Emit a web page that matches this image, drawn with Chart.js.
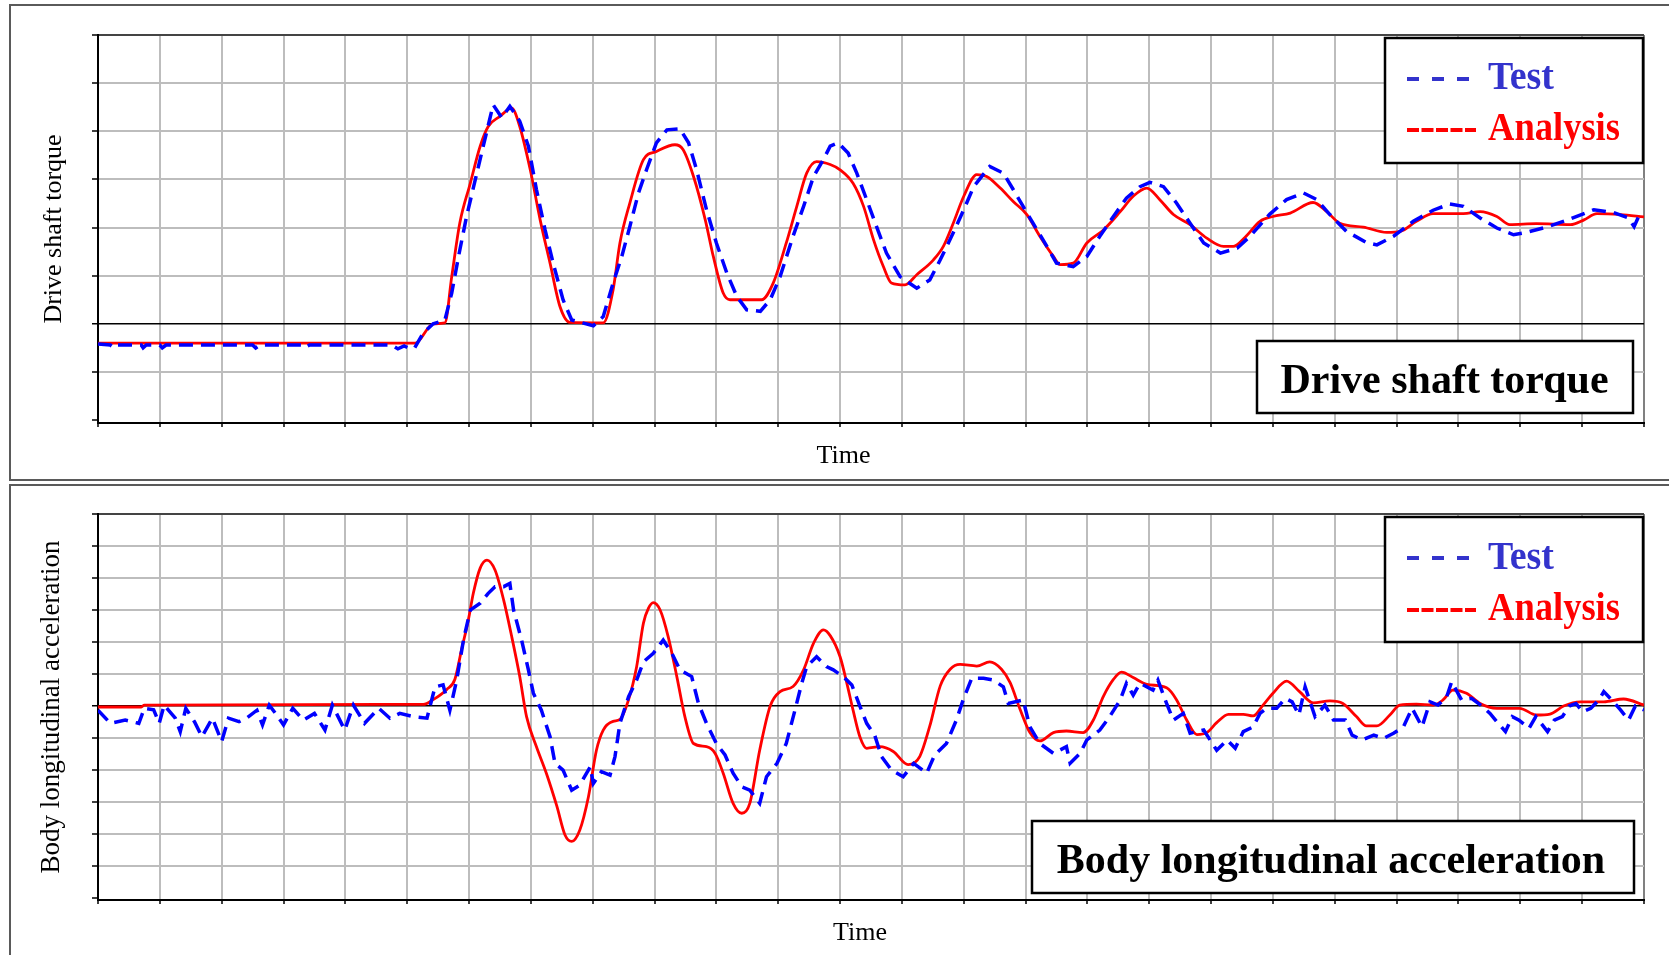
<!DOCTYPE html>
<html>
<head>
<meta charset="utf-8">
<title>Drive shaft torque / Body longitudinal acceleration</title>
<script src="https://cdn.jsdelivr.net/npm/chart.js@4.4.1/dist/chart.umd.min.js"></script>
<style>
  html, body { margin: 0; padding: 0; background: #fff; overflow: hidden; }
  #page { position: relative; width: 1669px; height: 955px; }
  canvas { position: absolute; left: 0; }
  #torque { top: 0; }
  #accel { top: 482px; }
  svg { position: absolute; left: 0; top: 0; pointer-events: none; }
  svg text { font-family: 'Liberation Serif', 'Times New Roman', serif; }
</style>
</head>
<body>
<div id="page">
  <canvas id="torque" width="1669" height="482"></canvas>
  <canvas id="accel" width="1669" height="473"></canvas>
  <svg width="1669" height="955">
    <!-- panel frames -->
    <rect x="10" y="5" width="1700" height="475" fill="none" stroke="#5a5a5a" stroke-width="2"/>
    <rect x="10" y="485" width="1700" height="500" fill="none" stroke="#5a5a5a" stroke-width="2"/>

    <!-- top legend -->
    <rect x="1385" y="38" width="258" height="125" fill="#fff" stroke="#000" stroke-width="2.5"/>
    <line x1="1407" y1="79" x2="1469" y2="79" stroke="#3333cc" stroke-width="4" stroke-dasharray="12 13"/>
    <text x="1488" y="89" font-size="39" font-weight="bold" fill="#3333cc" textLength="66" lengthAdjust="spacingAndGlyphs">Test</text>
    <line x1="1407" y1="130" x2="1476" y2="130" stroke="#ff0000" stroke-width="4" stroke-dasharray="12 2.5"/>
    <text x="1488" y="140" font-size="39" font-weight="bold" fill="#ff0000" textLength="132" lengthAdjust="spacingAndGlyphs">Analysis</text>

    <!-- top title box -->
    <rect x="1257" y="341" width="376" height="72" fill="#fff" stroke="#000" stroke-width="2.5"/>
    <text x="1444.5" y="393" font-size="42" font-weight="bold" text-anchor="middle" fill="#000">Drive shaft torque</text>
    <text x="843.5" y="463" font-size="26" text-anchor="middle" fill="#000">Time</text>

    <!-- bottom legend -->
    <rect x="1385" y="517" width="258" height="125" fill="#fff" stroke="#000" stroke-width="2.5"/>
    <line x1="1407" y1="558" x2="1469" y2="558" stroke="#3333cc" stroke-width="4" stroke-dasharray="12 13"/>
    <text x="1488" y="569" font-size="39" font-weight="bold" fill="#3333cc" textLength="66" lengthAdjust="spacingAndGlyphs">Test</text>
    <line x1="1407" y1="610" x2="1476" y2="610" stroke="#ff0000" stroke-width="4" stroke-dasharray="12 2.5"/>
    <text x="1488" y="620" font-size="39" font-weight="bold" fill="#ff0000" textLength="132" lengthAdjust="spacingAndGlyphs">Analysis</text>

    <!-- bottom title box -->
    <rect x="1032" y="821" width="602" height="72" fill="#fff" stroke="#000" stroke-width="2.5"/>
    <text x="1331" y="873" font-size="42" font-weight="bold" text-anchor="middle" fill="#000">Body longitudinal acceleration</text>
    <text x="860" y="940" font-size="26" text-anchor="middle" fill="#000">Time</text>
  </svg>
</div>
<script>
// time axis in grid divisions (no tick labels on the original)
const timeMin = 0;
const timeMax = 25;

// drive shaft torque, in grid divisions
const torqueMin = -2.06;
const torqueMax = 6;
const torqueTestT = [0, 0.2, 0.26, 0.32, 0.7, 0.73, 0.78, 1.0, 1.04, 1.1, 2.5, 2.55, 2.62, 3.3, 3.35, 3.42, 4.75, 4.85, 4.95, 5.05, 5.12, 5.26, 5.42, 5.61,
  5.72, 5.83, 5.96, 6.1, 6.23, 6.39, 6.53, 6.66, 6.82, 6.96, 7.09, 7.23, 7.36, 7.52, 7.66, 8.01, 8.17, 8.33, 8.47, 8.6, 8.74, 8.87, 9.03, 9.2, 9.41,
  9.55, 9.68, 9.84, 10.0, 10.17, 10.33, 10.49, 10.71, 10.87, 11.03, 11.24, 11.41, 11.57, 11.73, 11.84, 11.97, 12.13, 12.27, 12.43, 12.59, 12.75,
  12.97, 13.24, 13.45, 13.62, 13.83, 14.0, 14.16, 14.42, 14.64, 14.8, 14.96, 15.12, 15.28, 15.5, 15.77, 15.99, 16.2, 16.42, 16.63, 16.85, 17.01,
  17.23, 17.44, 17.66, 17.88, 18.15, 18.42, 18.63, 18.95, 19.22, 19.49, 19.71, 19.92, 20.19, 20.51, 20.68, 20.95, 21.27, 21.59, 21.86, 22.08,
  22.35, 22.62, 22.89, 23.1, 23.43, 23.81, 24.19, 24.51, 24.75, 24.84, 24.92, 25.0];
const torqueTestV = [-0.42, -0.44, -0.5, -0.44, -0.44, -0.5, -0.44, -0.44, -0.5, -0.44, -0.44, -0.5, -0.44, -0.44, -0.49, -0.44, -0.44, -0.52, -0.46, -0.52, -0.5, -0.19, 0.0, 0.08,
  0.64, 1.4, 2.23, 2.99, 3.69, 4.55, 4.28, 4.52, 4.21, 3.69, 2.79, 1.95, 1.26, 0.5, 0.08, -0.04, 0.15, 0.85, 1.4, 2.02, 2.72, 3.2, 3.76, 4.03, 4.05,
  3.76, 3.2, 2.37, 1.68, 1.05, 0.57, 0.29, 0.26, 0.5, 0.98, 1.82, 2.44, 3.06, 3.41, 3.69, 3.76, 3.55, 3.13, 2.58, 2.02, 1.47,
  0.98, 0.74, 0.91, 1.33, 1.89, 2.37, 2.85, 3.27, 3.13, 2.79, 2.44, 2.09, 1.75, 1.26, 1.19, 1.4, 1.82, 2.23, 2.61, 2.85, 2.94,
  2.85, 2.51, 2.09, 1.68, 1.47, 1.57, 1.82, 2.28, 2.58, 2.72, 2.58, 2.27, 1.92, 1.69, 1.64, 1.82, 2.13, 2.36, 2.49, 2.44,
  2.2, 1.99, 1.85, 1.9, 2.01, 2.18, 2.37, 2.31, 2.2, 2.02, 2.25, 2.2];
const torqueAnalysisT = [0, 5.13, 5.42, 5.61, 5.72, 5.85, 6.02, 6.18, 6.31, 6.5, 6.69, 6.82, 6.99, 7.15, 7.31, 7.47, 7.63, 8.17, 8.33, 8.44, 8.6,
  8.82, 9.03, 9.33, 9.46, 9.63, 9.82, 9.95, 10.11, 10.22, 10.73, 10.92, 11.13, 11.3, 11.46, 11.62, 11.84, 12.0, 12.21, 12.38, 12.54, 12.7,
  12.83, 13.05, 13.24, 13.51, 13.67, 13.83, 14.0, 14.21, 14.37, 14.59, 14.8, 15.02, 15.23, 15.45, 15.56, 15.77, 15.99, 16.26, 16.53, 16.74,
  16.96, 17.17, 17.39, 17.66, 17.93, 18.2, 18.36, 18.55, 18.79, 19.0, 19.28, 19.65, 19.87, 20.08, 20.46, 20.84, 21.06, 21.32, 21.59, 22.08,
  22.35, 22.62, 22.83, 23.26, 23.81, 24.03, 24.24, 24.62, 25.0];
const torqueAnalysisV = [-0.4, -0.4, 0.0, 0.02, 0.98, 2.09, 2.92, 3.69, 4.1, 4.31, 4.48, 4.1, 3.2, 2.16, 1.26, 0.36, 0.03, 0.02, 0.71, 1.68, 2.51,
  3.41, 3.58, 3.72, 3.62, 3.06, 2.16, 1.4, 0.64, 0.5, 0.5, 0.85, 1.68, 2.44, 3.13, 3.37, 3.31, 3.2, 2.92, 2.44, 1.75, 1.19,
  0.85, 0.81, 1.02, 1.33, 1.61, 2.09, 2.65, 3.1, 3.06, 2.82, 2.54, 2.27, 1.82, 1.4, 1.23, 1.26, 1.68, 1.95, 2.33, 2.65,
  2.82, 2.58, 2.27, 2.06, 1.78, 1.61, 1.61, 1.8, 2.13, 2.23, 2.3, 2.52, 2.33, 2.09, 2.01, 1.9, 1.92, 2.13, 2.29, 2.29,
  2.33, 2.23, 2.06, 2.08, 2.06, 2.16, 2.29, 2.27, 2.22];

// body longitudinal acceleration, in grid divisions
const accelMin = -6.06;
const accelMax = 6;
const accelTestT = [0, 0.2, 0.44, 0.66, 0.75, 0.9, 0.99, 1.07, 1.25, 1.33, 1.42, 1.56, 1.68, 1.85, 2.0, 2.11, 2.28, 2.4, 2.57, 2.66, 2.77, 2.89,
  3.0, 3.15, 3.32, 3.5, 3.67, 3.79, 3.99, 4.13, 4.31, 4.54, 4.72, 4.88, 5.1, 5.32, 5.45, 5.58, 5.69, 5.8, 5.91, 6.02, 6.18, 6.31, 6.42, 6.56,
  6.66, 6.72, 6.85, 6.96, 7.04, 7.17, 7.31, 7.39, 7.52, 7.66, 7.79, 7.96, 8.01, 8.14, 8.28, 8.36, 8.44, 8.58, 8.71, 8.82, 8.98, 9.14, 9.28,
  9.41, 9.6, 9.71, 9.84, 10.0, 10.14, 10.27, 10.41, 10.54, 10.7, 10.81, 10.98, 11.13, 11.27, 11.38, 11.46, 11.62, 11.78, 11.89, 12.05, 12.19,
  12.32, 12.43, 12.56, 12.67, 12.83, 13.02, 13.19, 13.4, 13.53, 13.72, 13.88, 13.99, 14.13, 14.32, 14.48, 14.64, 14.72, 14.96, 15.07, 15.23,
  15.45, 15.66, 15.72, 15.88, 15.99, 16.2, 16.36, 16.53, 16.63, 16.74, 16.85, 17.06, 17.14, 17.28, 17.39, 17.55, 17.66, 17.88, 18.09, 18.26,
  18.39, 18.52, 18.68, 18.79, 18.9, 19.06, 19.2, 19.31, 19.42, 19.52, 19.68, 19.84, 19.98, 20.17, 20.28, 20.44, 20.63, 20.79, 20.95, 21.11,
  21.25, 21.41, 21.54, 21.67, 21.81, 21.89, 22.05, 22.21, 22.38, 22.51, 22.62, 22.76, 22.87, 22.98, 23.14, 23.25, 23.44, 23.55, 23.68, 23.79,
  23.9, 24.01, 24.14, 24.27, 24.35, 24.48, 24.62, 24.75, 24.86, 25.0];
const accelTestV = [-0.13, -0.54, -0.44, -0.54, -0.07, -0.12, -0.54, 0.03, -0.38, -0.8, -0.07, -0.49, -0.96, -0.38, -1.11, -0.38, -0.49, -0.38, -0.13, -0.59, 0.03, -0.28,
  -0.59, -0.07, -0.44, -0.23, -0.75, 0.03, -0.75, 0.03, -0.54, -0.07, -0.38, -0.23, -0.33, -0.38, 0.6, 0.66, -0.13, 0.81, 2.06, 3.0, 3.21, 3.52, 3.73, 3.73,
  3.83, 3.0, 2.06, 1.13, 0.4, -0.13, -0.96, -1.79, -2.0, -2.63, -2.47, -1.9, -2.42, -2.05, -2.16, -1.58, -0.54, 0.29, 0.81, 1.38, 1.65, 2.06, 1.65,
  1.13, 0.92, 0.08, -0.54, -1.17, -1.53, -2.1, -2.52, -2.63, -3.04, -2.21, -1.79, -1.17, -0.13, 0.71, 1.23, 1.54, 1.23, 1.13, 0.92, 0.66,
  0.0, -0.54, -0.91, -1.58, -2.0, -2.21, -1.79, -2.1, -1.53, -1.17, -0.44, 0.19, 0.87, 0.87, 0.81, 0.6, 0.08, 0.19, -0.65, -1.17,
  -1.48, -1.27, -1.79, -1.48, -1.06, -0.75, -0.33, 0.19, 0.71, 0.34, 0.71, 0.5, 0.81, 0.08, -0.44, -0.23, -0.85, -0.75, -1.38, -1.06,
  -1.32, -0.8, -0.65, -0.23, -0.07, -0.07, 0.24, 0.13, -0.28, 0.6, -0.33, 0.03, -0.44, -0.44, -0.91, -1.06, -0.91, -1.01, -0.85, -0.65,
  -0.07, -0.65, 0.13, 0.03, 0.29, 0.76, 0.19, 0.24, 0.0, -0.23, -0.49, -0.8, -0.33, -0.44, -0.7, -0.33, -0.8, -0.44, -0.33, 0.0,
  0.08, -0.18, -0.07, 0.19, 0.45, 0.19, -0.12, -0.44, 0.0, -0.12];
const accelAnalysisT = [0, 0.7, 0.75, 4.56, 5.26, 5.42, 5.64, 5.77, 5.88, 5.99, 6.07, 6.18, 6.29, 6.42, 6.56, 6.69, 6.82, 6.93, 7.09, 7.25, 7.42,
  7.55, 7.66, 7.79, 7.93, 8.06, 8.17, 8.33, 8.44, 8.58, 8.71, 8.82, 8.9, 8.98, 9.09, 9.22, 9.36, 9.49, 9.63, 9.84, 9.98, 10.11, 10.27, 10.41,
  10.54, 10.7, 10.87, 11.03, 11.24, 11.41, 11.57, 11.73, 11.84, 12.0, 12.11, 12.21, 12.32, 12.43, 12.64, 12.86, 13.1, 13.29, 13.45, 13.62,
  13.78, 13.94, 14.21, 14.42, 14.61, 14.75, 14.91, 15.07, 15.23, 15.45, 15.66, 15.93, 16.1, 16.26, 16.42, 16.55, 16.74, 16.96, 17.28, 17.44,
  17.6, 17.77, 17.93, 18.09, 18.28, 18.52, 18.68, 18.84, 19.0, 19.22, 19.43, 19.65, 19.92, 20.13, 20.35, 20.51, 20.68, 20.89, 21.05, 21.32,
  21.59, 21.75, 21.91, 22.13, 22.35, 22.62, 22.99, 23.26, 23.48, 23.7, 23.97, 24.35, 24.67, 25.0];
const accelAnalysisV = [-0.03, -0.03, 0.03, 0.05, 0.05, 0.2, 0.52, 0.83, 1.77, 2.7, 3.53, 4.31, 4.56, 4.25, 3.31, 2.17, 0.92, -0.33, -1.27, -2.1, -3.13,
  -4.02, -4.23, -3.88, -2.84, -1.38, -0.75, -0.48, -0.42, 0.2, 1.23, 2.59, 3.05, 3.23, 3.0, 2.17, 0.92, -0.33, -1.17, -1.27, -1.48, -2.1, -3.04, -3.35,
  -3.04, -1.38, 0.0, 0.45, 0.61, 1.13, 1.96, 2.38, 2.2, 1.54, 0.71, -0.13, -0.96, -1.32, -1.27, -1.42, -1.83, -1.57, -0.63, 0.63,
  1.15, 1.3, 1.25, 1.38, 1.15, 0.73, -0.1, -0.83, -1.09, -0.83, -0.78, -0.83, -0.42, 0.31, 0.83, 1.06, 0.89, 0.68, 0.57, 0.2,
  -0.42, -0.89, -0.83, -0.52, -0.26, -0.26, -0.31, 0.03, 0.4, 0.78, 0.45, 0.1, 0.16, 0.08, -0.33, -0.62, -0.62, -0.28, 0.03, 0.06,
  0.03, 0.19, 0.5, 0.4, 0.08, -0.07, -0.07, -0.28, -0.25, 0.0, 0.13, 0.13, 0.22, 0.03];

const serif = 'Liberation Serif';

const toPoints = (t, v) => t.map((x, i) => ({ x, y: v[i] }));

// one framed panel: Test (dashed blue, on top) against Analysis (red)
const makePanel = (canvasId, opts) => {
  const ctx = document.getElementById(canvasId).getContext('2d');
  return new Chart(ctx, {
    type: 'line',
    data: {
      datasets: [
        {
          label: 'Test',
          data: toPoints(opts.testT, opts.testV),
          borderColor: '#0000ff',
          borderWidth: 3.5,
          borderDash: [14, 8],
          pointRadius: 0,
          tension: 0,
        },
        {
          label: 'Analysis',
          data: toPoints(opts.analysisT, opts.analysisV),
          borderColor: '#ff0000',
          borderWidth: 2.8,
          pointRadius: 0,
          cubicInterpolationMode: 'monotone',
        },
      ],
    },
    options: {
      responsive: false,
      animation: false,
      devicePixelRatio: 1,
      layout: {
        autoPadding: false,
        padding: { top: opts.padTop, right: 25, bottom: 0, left: 0 },
      },
      plugins: {
        legend: { display: false },
        tooltip: { enabled: false },
      },
      scales: {
        x: {
          type: 'linear',
          min: timeMin,
          max: timeMax,
          ticks: { stepSize: 1, display: false },
          grid: {
            color: (c) => (c.tick && c.tick.value === timeMax ? '#808080' : '#bdbdbd'),
            lineWidth: 2,
            tickColor: '#000',
            tickLength: 4,
            tickWidth: 1.5,
          },
          border: { color: '#000', width: 2 },
          afterFit: (s) => { s.height = opts.bottomSpace; },
        },
        y: {
          type: 'linear',
          min: opts.yMin,
          max: opts.yMax,
          ticks: { stepSize: 1, display: false, includeBounds: false },
          grid: {
            color: (c) => {
              if (!c.tick) return '#bdbdbd';
              if (c.tick.value === 0) return '#000';
              if (c.tick.value === opts.yMax) return '#444';
              if (c.index === 0) return 'rgba(0,0,0,0)';
              return '#bdbdbd';
            },
            lineWidth: (c) => (c.tick && c.tick.value === 0 ? 1.5 : 2),
            tickColor: '#000',
            tickLength: 6,
            tickWidth: 1.5,
          },
          border: { color: '#000', width: 2 },
          title: {
            display: true,
            text: opts.yTitle,
            color: '#000',
            font: { family: serif, size: opts.titleSize, lineHeight: 1.2 },
            padding: { top: opts.titlePad, bottom: 0 },
          },
          afterFit: (s) => { s.width = 98; },
        },
      },
    },
  });
};

makePanel('torque', {
  testT: torqueTestT, testV: torqueTestV,
  analysisT: torqueAnalysisT, analysisV: torqueAnalysisV,
  yMin: torqueMin, yMax: torqueMax,
  yTitle: 'Drive shaft torque', titleSize: 26, titlePad: 39,
  padTop: 35, bottomSpace: 59,
});

makePanel('accel', {
  testT: accelTestT, testV: accelTestV,
  analysisT: accelAnalysisT, analysisV: accelAnalysisV,
  yMin: accelMin, yMax: accelMax,
  yTitle: 'Body longitudinal acceleration', titleSize: 27, titlePad: 36,
  padTop: 32, bottomSpace: 55,
});
</script>
</body>
</html>
